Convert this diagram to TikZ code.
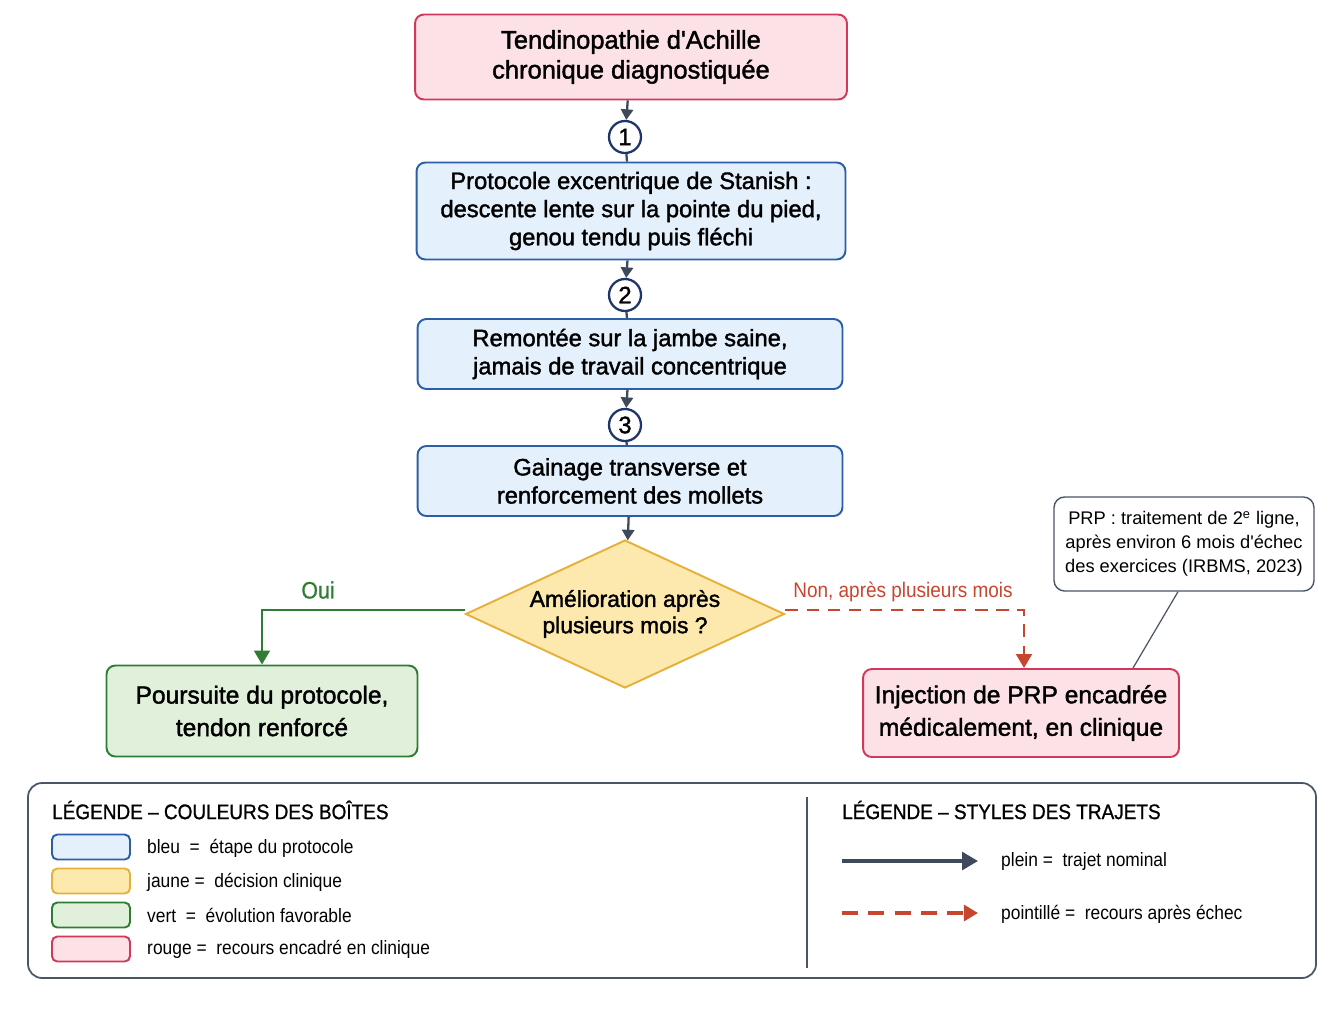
\documentclass[tikz,border=0pt]{standalone}
\usepackage{fontspec}
\setmainfont{Liberation Sans}
\newfontfamily\narrowfont[FakeStretch=0.9]{Liberation Sans}
\newfontfamily\boxfont[FakeBold=1.6]{Liberation Sans}
\newfontfamily\headfont[FakeStretch=0.9,FakeBold=1]{Liberation Sans}
\usetikzlibrary{arrows.meta,shapes.geometric}

\definecolor{bluefill}{HTML}{E4F0FB}
\definecolor{blueline}{HTML}{2B5EA7}
\definecolor{yelfill}{HTML}{FDE9AE}
\definecolor{yelline}{HTML}{E5B03C}
\definecolor{grnfill}{HTML}{E0F0DB}
\definecolor{grnline}{HTML}{2E7D32}
\definecolor{redfill}{HTML}{FCE1E7}
\definecolor{redline}{HTML}{D2385A}
\definecolor{flowgray}{HTML}{3E4A5C}
\definecolor{navy}{HTML}{1E3669}
\definecolor{nonred}{HTML}{C8452F}
\definecolor{framegray}{HTML}{4A5566}

\tikzset{
  box/.style={draw, rounded corners=5pt, line width=1.1pt, align=center},
  stepbox/.style={box, draw=blueline, fill=bluefill, font=\boxfont\fontsize{13.5}{16}\selectfont},
  startbox/.style={box, draw=redline, fill=redfill, font=\boxfont\fontsize{14.5}{17}\selectfont},
  endbox/.style={box, font=\boxfont\fontsize{14}{18.5}\selectfont},
  decision/.style={diamond, aspect=2.15, draw=yelline, fill=yelfill, line width=1.1pt, inner sep=0pt, align=center, font=\boxfont\fontsize{13}{15}\selectfont},
  stepnum/.style={circle, draw=navy, fill=white, line width=1.3pt, minimum size=0.64cm, inner sep=0pt, font=\boxfont\fontsize{13.5}{13.5}\selectfont},
  flow/.style={draw=flowgray, line width=1.3pt, -{Triangle[length=6pt,width=7pt]}},
  joint/.style={draw=flowgray, line width=1.3pt},
  yes/.style={draw=grnline, line width=1.5pt, -{Triangle[length=8pt,width=9pt]}},
  fallback/.style={draw=nonred, line width=1.5pt, dash pattern=on 7pt off 5pt, -{Triangle[length=8pt,width=9pt]}},
  swatch/.style={draw, rounded corners=3pt, line width=1.1pt, minimum width=1.56cm, minimum height=0.5cm, inner sep=0pt},
  legtext/.style={anchor=west, font=\narrowfont\fontsize{11}{13}\selectfont},
  legtitle/.style={anchor=west, font=\headfont\fontsize{12}{14}\selectfont}
}

\begin{document}
\begin{tikzpicture}[x=0.02cm, y=-0.02cm]
  \useasboundingbox (0,0) rectangle (1344,1008);

  \node[startbox, minimum width=8.64cm, minimum height=1.7cm] (diag) at (631,57) {Tendinopathie d\textquotesingle Achille\\chronique diagnostiquée};
  \node[stepnum] (n1) at (625,137) {1};
  \node[stepbox, minimum width=8.58cm, minimum height=1.94cm] (stanish) at (631,211) {Protocole excentrique de Stanish :\\descente lente sur la pointe du pied,\\genou tendu puis fléchi};
  \node[stepnum] (n2) at (625,295) {2};
  \node[stepbox, minimum width=8.5cm, minimum height=1.4cm] (remontee) at (630,354) {Remontée sur la jambe saine,\\jamais de travail concentrique};
  \node[stepnum] (n3) at (625,425) {3};
  \node[stepbox, minimum width=8.5cm, minimum height=1.4cm] (gainage) at (630,481) {Gainage transverse et\\renforcement des mollets};
  \node[decision, minimum width=6.38cm, minimum height=2.96cm] (amelio) at (625,614) {Amélioration après\\plusieurs mois ?};
  \node[endbox, draw=grnline, fill=grnfill, minimum width=6.22cm, minimum height=1.82cm] (poursuite) at (262,711) {Poursuite du protocole,\\tendon renforcé};
  \node[endbox, draw=redline, fill=redfill, minimum width=6.32cm, minimum height=1.76cm] (prp) at (1021,713) {Injection de PRP encadrée\\médicalement, en clinique};
  \node[draw=framegray, fill=white, rounded corners=6pt, line width=0.8pt, align=center, minimum width=5.2cm, minimum height=1.88cm, font=\fontsize{10.4}{13.6}\selectfont] (note) at (1184,544) {PRP : traitement de 2\textsuperscript{e} ligne,\\après environ 6 mois d\textquotesingle échec\\des exercices (IRBMS, 2023)};

  \draw[flow] (diag) -- (n1);
  \draw[joint] (n1) -- (stanish);
  \draw[flow] (stanish) -- (n2);
  \draw[joint] (n2) -- (remontee);
  \draw[flow] (remontee) -- (n3);
  \draw[joint] (n3) -- (gainage);
  \draw[flow] (gainage) -- (amelio);
  \draw[yes] ([yshift=0.08cm]amelio.west) -| (poursuite.north);
  \draw[fallback] ([yshift=0.08cm]amelio.east) -| ([xshift=0.06cm]prp.north);
  \draw[framegray, line width=0.7pt] ([xshift=-0.12cm]note.south) -- ([xshift=2.24cm]prp.north);

  \node[font=\headfont\fontsize{13.5}{15}\selectfont, text=grnline] (oui) at (318,590) {Oui};
  \node[font=\narrowfont\fontsize{12}{14}\selectfont, text=nonred] (non) at (903,592) {Non, après plusieurs mois};

  \draw[framegray, line width=1pt, rounded corners=8pt] (28,783) rectangle (1316,978);
  \draw[framegray, line width=0.8pt] (807,797) -- (807,968);

  \node[legtitle] (legbox) at (46,810) {LÉGENDE – COULEURS DES BOÎTES};
  \node[swatch, draw=blueline, fill=bluefill] (sw1) at (91,847) {};
  \node[swatch, draw=yelline, fill=yelfill] (sw2) at (91,881) {};
  \node[swatch, draw=grnline, fill=grnfill] (sw3) at (91,915) {};
  \node[swatch, draw=redline, fill=redfill] (sw4) at (91,949) {};
  \node[legtext] (lt1) at (141,848) {bleu \ = \ étape du protocole};
  \node[legtext] (lt2) at (141,882) {jaune = \ décision clinique};
  \node[legtext] (lt3) at (141,915) {vert \ = \ évolution favorable};
  \node[legtext] (lt4) at (141,949) {rouge = \ recours encadré en clinique};

  \node[legtitle] (legpath) at (836,810) {LÉGENDE – STYLES DES TRAJETS};
  \coordinate (p1a) at (842,861);
  \coordinate (p1b) at (978,861);
  \coordinate (p2a) at (842,913);
  \coordinate (p2b) at (978,913);
  \draw[joint, line width=2pt, -{Triangle[length=9pt,width=10pt]}] (p1a) -- (p1b);
  \draw[fallback, line width=2pt, dash pattern=on 9pt off 6pt] (p2a) -- (p2b);
  \node[legtext] (lt5) at (995,861) {plein = \ trajet nominal};
  \node[legtext] (lt6) at (995,914) {pointillé = \ recours après échec};
\end{tikzpicture}
\end{document}
